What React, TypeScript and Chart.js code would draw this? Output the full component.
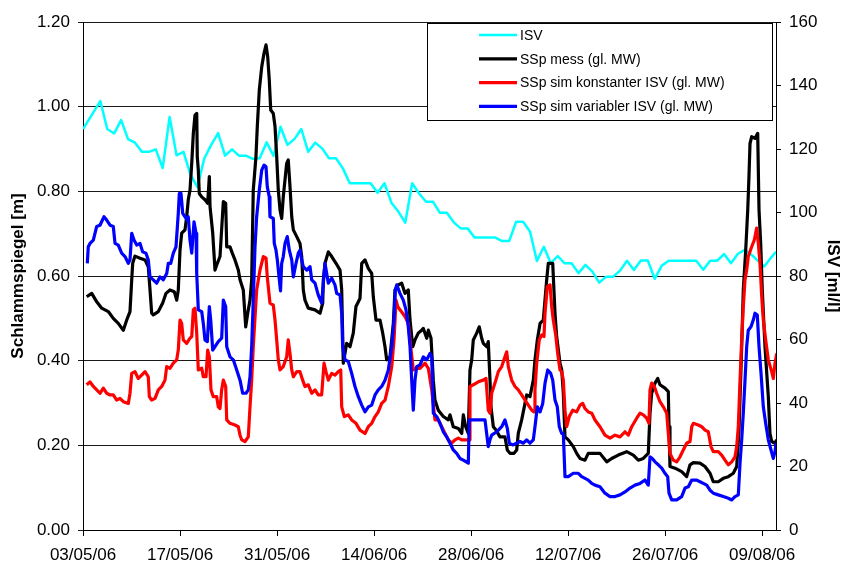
import { useEffect, useRef } from 'react';
import { Chart, registerables } from 'chart.js';

Chart.register(...registerables);

const FONT = '"Liberation Sans", Arial, Helvetica, sans-serif';

// x axis: days since 03/05/06
const xMin = 0;
const xMax = 100;
const xTickDays = [0, 14, 28, 42, 56, 70, 84, 98];
const xTickLabels = ['03/05/06', '17/05/06', '31/05/06', '14/06/06', '28/06/06', '12/07/06', '26/07/06', '09/08/06'];

const seriesLabels = ['ISV', 'SSp mess (gl. MW)', 'SSp sim konstanter ISV (gl. MW)', 'SSp sim variabler ISV (gl. MW)'];
const seriesColors = ['#00ffff', '#000000', '#ff0000', '#0000ff'];

// ISV [ml/l] (right axis)
const isv: [number, number][] = [
  [0, 126.3], [2.5, 135.1], [3.5, 126.3], [4.5, 124.9], [5.5, 129.1], [6.5, 123.1], [7.5, 122.0], [8.5, 119.1],
  [9.5, 119.1], [10.5, 119.9], [11.5, 114.0], [12.5, 130.1], [13.5, 118.0], [14.5, 119.1], [15.5, 112.0], [16.5, 108.0],
  [17.5, 117.0], [18.5, 121.3], [19.5, 125.0], [20.5, 117.9], [21.5, 119.9], [22.5, 117.9], [23.5, 117.9], [24.5, 116.9],
  [25.5, 117.1], [26.5, 122.1], [27.5, 117.8], [28.5, 127.0], [29.5, 121.3], [30.5, 123.1], [31.5, 126.3], [32.5, 119.1],
  [33.5, 122.0], [34.5, 120.2], [35.5, 117.1], [36.5, 117.1], [37.5, 113.9], [38.5, 109.2], [39.5, 109.2], [40.5, 109.2],
  [41.5, 109.2], [42.5, 106.2], [43.5, 109.2], [44.5, 103.1], [45.5, 100.3], [46.5, 96.8], [47.5, 109.2], [48.5, 106.0],
  [49.5, 103.4], [50.5, 103.4], [51.5, 99.9], [52.5, 99.9], [53.5, 96.9], [54.5, 95.0], [55.5, 95.0], [56.5, 92.1],
  [57.5, 92.1], [58.5, 92.1], [59.5, 92.1], [60.5, 91.0], [61.5, 91.0], [62.5, 97.1], [63.5, 97.1], [64.5, 94.0],
  [65.5, 84.7], [66.5, 89.2], [67.5, 84.0], [68.5, 86.3], [69.5, 84.0], [70.5, 84.0], [71.5, 80.9], [72.5, 83.5],
  [73.5, 81.4], [74.5, 77.9], [75.5, 79.8], [76.5, 79.8], [77.5, 81.7], [78.5, 84.8], [79.5, 81.9], [80.5, 84.9],
  [81.5, 84.9], [82.5, 79.1], [83.5, 83.2], [84.5, 84.8], [85.5, 84.8], [86.5, 84.8], [87.5, 84.8], [88.5, 84.8],
  [89.5, 82.0], [90.5, 84.8], [91.5, 84.8], [92.5, 86.9], [93.5, 84.0], [94.5, 87.0], [95.5, 88.2], [96.5, 86.6],
  [97.3, 85.0], [98.3, 83.0], [99.3, 85.8], [100, 87.6],
];

// SSp mess (gl. MW) [m]
const sspMess: [number, number][] = [
  [0.53, 0.551], [1.26, 0.559], [1.98, 0.539], [2.70, 0.524], [3.65, 0.516], [4.37, 0.500], [5.09, 0.488], [5.82, 0.472],
  [6.31, 0.496], [6.78, 0.516], [7.03, 0.591], [7.17, 0.630], [7.50, 0.647], [8.23, 0.642], [8.95, 0.638], [9.42, 0.622],
  [9.67, 0.567], [9.91, 0.512], [10.14, 0.508], [10.87, 0.516], [11.50, 0.536], [11.98, 0.559], [12.55, 0.567], [13.17, 0.563],
  [13.52, 0.543], [13.75, 0.567], [14.00, 0.661], [14.24, 0.701], [14.72, 0.709], [14.96, 0.740], [15.19, 0.780], [15.44, 0.803],
  [15.69, 0.866], [15.92, 0.937], [16.16, 0.980], [16.41, 0.984], [16.49, 0.882], [16.64, 0.850], [16.78, 0.795], [17.13, 0.787],
  [17.60, 0.780], [17.99, 0.772], [18.23, 0.835], [18.33, 0.764], [18.72, 0.701], [19.05, 0.614], [19.38, 0.630], [19.77, 0.646],
  [20.25, 0.776], [20.59, 0.772], [20.74, 0.669], [21.21, 0.669], [21.54, 0.654], [21.93, 0.638], [22.41, 0.614], [22.66, 0.591],
  [23.13, 0.567], [23.48, 0.480], [23.77, 0.512], [24.10, 0.543], [24.34, 0.591], [24.57, 0.803], [24.96, 0.882], [25.15, 0.953],
  [25.44, 1.039], [25.79, 1.094], [26.12, 1.126], [26.41, 1.146], [26.65, 1.118], [26.88, 1.063], [27.09, 0.992], [27.46, 0.984],
  [27.71, 0.953], [27.95, 0.882], [28.18, 0.803], [28.43, 0.756], [28.67, 0.736], [28.90, 0.787], [29.39, 0.866], [29.62, 0.874],
  [29.87, 0.811], [30.12, 0.740], [30.35, 0.709], [30.84, 0.693], [31.31, 0.677], [31.56, 0.646], [31.79, 0.567], [32.03, 0.543],
  [32.51, 0.524], [33.48, 0.520], [34.20, 0.512], [34.59, 0.536], [34.68, 0.591], [34.92, 0.630], [35.40, 0.657], [35.89, 0.646],
  [36.51, 0.630], [37.09, 0.614], [37.33, 0.567], [37.56, 0.394], [38.05, 0.441], [38.53, 0.433], [39.00, 0.465], [39.39, 0.528],
  [39.97, 0.547], [40.22, 0.630], [40.69, 0.638], [41.17, 0.618], [41.66, 0.606], [41.89, 0.551], [42.28, 0.496], [42.86, 0.496],
  [43.25, 0.465], [43.58, 0.433], [43.82, 0.402], [44.30, 0.409], [44.78, 0.488], [45.02, 0.567], [45.50, 0.579], [45.99, 0.583],
  [46.46, 0.559], [46.94, 0.567], [47.19, 0.496], [47.58, 0.433], [47.91, 0.449], [48.38, 0.465], [48.87, 0.472], [49.11, 0.476],
  [49.60, 0.453], [49.83, 0.472], [50.22, 0.453], [50.55, 0.354], [50.79, 0.307], [51.27, 0.283], [51.99, 0.268], [52.71, 0.260],
  [52.96, 0.272], [53.43, 0.244], [54.16, 0.240], [54.65, 0.228], [54.88, 0.272], [55.22, 0.244], [55.60, 0.228], [55.84, 0.378],
  [56.09, 0.402], [56.32, 0.449], [56.81, 0.465], [57.18, 0.480], [57.53, 0.453], [57.76, 0.441], [58.25, 0.433], [58.48, 0.445],
  [58.73, 0.354], [58.87, 0.291], [59.21, 0.244], [59.60, 0.236], [60.17, 0.220], [60.89, 0.220], [61.23, 0.189], [61.62, 0.181],
  [62.19, 0.181], [62.58, 0.189], [62.81, 0.228], [63.30, 0.260], [63.78, 0.299], [64.02, 0.319], [64.50, 0.315], [64.98, 0.354],
  [65.22, 0.402], [65.56, 0.449], [65.95, 0.488], [66.42, 0.496], [66.91, 0.591], [67.14, 0.630], [67.78, 0.630], [68.11, 0.512],
  [68.35, 0.457], [68.83, 0.394], [69.08, 0.378], [69.31, 0.323], [69.55, 0.220], [70.03, 0.213], [70.75, 0.197], [71.24, 0.181],
  [71.72, 0.169], [72.44, 0.165], [72.91, 0.181], [73.64, 0.181], [74.60, 0.181], [75.57, 0.161], [76.29, 0.169], [77.24, 0.177],
  [78.45, 0.185], [79.41, 0.177], [80.13, 0.165], [80.85, 0.169], [81.57, 0.181], [81.82, 0.276], [82.06, 0.323], [82.54, 0.347],
  [82.93, 0.358], [83.26, 0.343], [83.98, 0.335], [84.46, 0.327], [84.56, 0.244], [84.70, 0.150], [85.43, 0.146], [86.39, 0.138],
  [87.11, 0.126], [87.59, 0.154], [88.07, 0.159], [89.03, 0.158], [89.75, 0.150], [90.48, 0.134], [90.95, 0.114], [91.67, 0.114],
  [92.40, 0.122], [93.12, 0.126], [93.84, 0.134], [94.33, 0.150], [94.66, 0.236], [95.05, 0.433], [95.28, 0.567], [95.63, 0.661],
  [95.92, 0.756], [96.10, 0.835], [96.25, 0.913], [96.49, 0.929], [96.97, 0.925], [97.36, 0.937], [97.45, 0.850], [97.55, 0.756],
  [97.79, 0.677], [98.02, 0.567], [98.41, 0.433], [98.89, 0.315], [99.13, 0.228], [99.38, 0.209], [99.86, 0.205], [100.1, 0.213],
];

// SSp sim konstanter ISV (gl. MW) [m]
const sspKonst: [number, number][] = [
  [0.53, 0.343], [1.01, 0.350], [1.49, 0.339], [1.98, 0.331], [2.45, 0.323], [2.93, 0.335], [3.42, 0.323], [3.90, 0.319],
  [4.37, 0.319], [4.86, 0.307], [5.34, 0.311], [5.82, 0.303], [6.54, 0.299], [6.78, 0.323], [7.03, 0.370], [7.50, 0.374],
  [7.98, 0.358], [8.47, 0.366], [8.95, 0.374], [9.42, 0.362], [9.57, 0.315], [9.91, 0.307], [10.39, 0.311], [10.87, 0.331],
  [11.36, 0.339], [11.83, 0.354], [12.08, 0.386], [12.55, 0.382], [13.03, 0.394], [13.52, 0.402], [13.75, 0.425], [14.00, 0.496],
  [14.24, 0.488], [14.47, 0.449], [14.96, 0.441], [15.44, 0.453], [15.69, 0.457], [15.92, 0.520], [16.16, 0.524], [16.41, 0.465],
  [16.64, 0.378], [17.13, 0.382], [17.36, 0.362], [17.75, 0.362], [17.99, 0.425], [18.23, 0.409], [18.47, 0.331], [18.80, 0.315],
  [19.29, 0.315], [19.52, 0.291], [19.77, 0.287], [20.01, 0.331], [20.25, 0.354], [20.59, 0.339], [20.74, 0.260], [21.21, 0.252],
  [21.93, 0.248], [22.41, 0.244], [22.66, 0.224], [22.90, 0.213], [23.38, 0.209], [23.85, 0.220], [24.10, 0.291], [24.34, 0.354],
  [24.57, 0.433], [25.06, 0.567], [25.54, 0.614], [26.02, 0.646], [26.41, 0.642], [26.59, 0.598], [26.98, 0.536], [27.46, 0.531],
  [27.71, 0.496], [27.95, 0.449], [28.18, 0.402], [28.43, 0.378], [28.90, 0.386], [29.39, 0.409], [29.62, 0.449], [29.87, 0.417],
  [30.12, 0.378], [30.35, 0.362], [30.84, 0.374], [31.31, 0.374], [31.70, 0.354], [32.03, 0.339], [32.51, 0.343], [33.00, 0.323],
  [33.48, 0.331], [33.95, 0.319], [34.44, 0.319], [34.78, 0.394], [35.06, 0.374], [35.40, 0.354], [35.89, 0.370], [36.36, 0.366],
  [36.84, 0.374], [37.19, 0.378], [37.33, 0.291], [37.71, 0.268], [38.28, 0.272], [38.77, 0.260], [39.39, 0.252], [39.97, 0.236],
  [40.69, 0.228], [41.17, 0.244], [41.66, 0.252], [42.14, 0.268], [42.61, 0.279], [43.10, 0.299], [43.58, 0.307], [44.06, 0.339],
  [44.55, 0.386], [44.88, 0.449], [45.17, 0.543], [45.41, 0.528], [45.74, 0.520], [46.13, 0.512], [46.46, 0.504], [46.94, 0.488],
  [47.29, 0.433], [47.66, 0.378], [48.15, 0.382], [48.63, 0.382], [49.35, 0.394], [49.83, 0.382], [50.32, 0.331], [50.79, 0.260],
  [51.27, 0.260], [51.76, 0.244], [52.24, 0.228], [52.71, 0.213], [53.20, 0.205], [53.68, 0.213], [54.16, 0.217], [54.65, 0.213],
  [55.37, 0.213], [55.74, 0.213], [55.84, 0.339], [56.32, 0.343], [57.04, 0.350], [57.76, 0.354], [58.15, 0.358], [58.48, 0.283],
  [58.73, 0.276], [58.97, 0.323], [59.45, 0.347], [59.93, 0.374], [60.42, 0.386], [60.89, 0.409], [61.14, 0.421], [61.37, 0.386],
  [61.86, 0.354], [62.34, 0.339], [62.81, 0.331], [63.30, 0.319], [63.78, 0.307], [64.26, 0.295], [64.75, 0.283], [65.08, 0.279],
  [65.22, 0.331], [65.47, 0.394], [65.84, 0.449], [66.19, 0.461], [66.52, 0.457], [66.67, 0.512], [67.00, 0.575], [67.39, 0.579],
  [67.63, 0.528], [67.86, 0.496], [68.21, 0.461], [68.50, 0.417], [68.83, 0.378], [69.08, 0.374], [69.31, 0.354], [69.55, 0.283],
  [69.80, 0.244], [70.17, 0.268], [70.66, 0.283], [71.24, 0.279], [71.72, 0.295], [72.11, 0.299], [72.44, 0.287], [72.91, 0.279],
  [73.41, 0.276], [73.88, 0.260], [74.60, 0.244], [75.32, 0.224], [76.05, 0.217], [76.77, 0.224], [77.49, 0.220], [78.21, 0.232],
  [78.69, 0.224], [79.18, 0.244], [79.90, 0.264], [80.38, 0.276], [80.85, 0.272], [81.34, 0.264], [81.67, 0.252], [81.82, 0.331],
  [82.06, 0.347], [82.44, 0.339], [82.78, 0.323], [83.26, 0.303], [83.74, 0.291], [84.23, 0.276], [84.46, 0.228], [84.70, 0.181],
  [85.18, 0.165], [85.67, 0.161], [86.15, 0.173], [86.62, 0.189], [87.11, 0.205], [87.59, 0.209], [87.84, 0.244], [88.07, 0.252],
  [88.79, 0.248], [89.28, 0.244], [89.75, 0.236], [90.23, 0.232], [90.62, 0.197], [90.95, 0.185], [91.67, 0.185], [92.16, 0.177],
  [92.64, 0.165], [93.12, 0.154], [93.61, 0.161], [94.08, 0.173], [94.33, 0.197], [94.56, 0.244], [94.81, 0.354], [95.05, 0.449],
  [95.28, 0.528], [95.53, 0.591], [95.77, 0.614], [96.00, 0.646], [96.49, 0.669], [96.87, 0.685], [97.21, 0.713], [97.45, 0.677],
  [97.69, 0.630], [97.94, 0.551], [98.17, 0.496], [98.51, 0.449], [98.89, 0.402], [99.38, 0.374], [99.61, 0.358], [99.86, 0.394],
  [100.1, 0.417],
];

// SSp sim variabler ISV (gl. MW) [m]
const sspVar: [number, number][] = [
  [0.62, 0.630], [0.76, 0.669], [1.01, 0.677], [1.49, 0.685], [1.98, 0.717], [2.45, 0.720], [3.03, 0.740], [3.42, 0.732],
  [3.90, 0.720], [4.37, 0.717], [4.62, 0.677], [5.09, 0.673], [5.58, 0.654], [6.06, 0.646], [6.54, 0.630], [6.78, 0.638],
  [7.03, 0.701], [7.36, 0.685], [7.75, 0.673], [8.23, 0.677], [8.61, 0.657], [9.09, 0.654], [9.42, 0.638], [9.67, 0.598],
  [10.14, 0.591], [10.63, 0.583], [11.11, 0.598], [11.59, 0.591], [12.08, 0.606], [12.31, 0.630], [12.66, 0.630], [13.03, 0.654],
  [13.42, 0.669], [13.75, 0.748], [13.90, 0.795], [14.14, 0.795], [14.39, 0.748], [14.72, 0.740], [15.05, 0.732], [15.19, 0.740],
  [15.44, 0.685], [15.69, 0.654], [16.02, 0.728], [16.31, 0.701], [16.41, 0.606], [16.64, 0.520], [17.13, 0.516], [17.36, 0.488],
  [17.60, 0.449], [17.94, 0.445], [18.23, 0.528], [18.43, 0.496], [18.72, 0.425], [19.05, 0.433], [19.52, 0.445], [20.01, 0.453],
  [20.25, 0.543], [20.59, 0.528], [20.74, 0.433], [21.21, 0.409], [21.69, 0.402], [22.18, 0.378], [22.66, 0.354], [23.04, 0.323],
  [23.52, 0.323], [23.85, 0.331], [24.10, 0.362], [24.34, 0.433], [24.57, 0.543], [24.82, 0.669], [25.06, 0.740], [25.44, 0.803],
  [25.79, 0.850], [26.12, 0.862], [26.41, 0.858], [26.59, 0.811], [26.88, 0.787], [26.98, 0.740], [27.46, 0.736], [27.60, 0.677],
  [27.85, 0.661], [28.04, 0.638], [28.33, 0.591], [28.50, 0.565], [28.67, 0.630], [28.90, 0.646], [29.15, 0.677], [29.48, 0.693],
  [29.77, 0.661], [30.12, 0.638], [30.35, 0.598], [30.74, 0.630], [31.07, 0.654], [31.31, 0.661], [31.56, 0.638], [31.79, 0.622],
  [32.28, 0.614], [32.76, 0.622], [33.00, 0.591], [33.48, 0.583], [33.95, 0.555], [34.44, 0.536], [34.92, 0.630], [35.40, 0.583],
  [35.89, 0.595], [36.36, 0.579], [36.61, 0.559], [37.09, 0.555], [37.33, 0.512], [37.47, 0.433], [37.81, 0.402], [38.28, 0.398],
  [38.77, 0.370], [39.25, 0.339], [39.73, 0.315], [40.22, 0.295], [40.69, 0.279], [41.17, 0.291], [41.66, 0.295], [42.14, 0.319],
  [42.61, 0.331], [43.10, 0.339], [43.58, 0.354], [44.06, 0.378], [44.55, 0.433], [44.88, 0.496], [45.07, 0.567], [45.27, 0.579],
  [45.74, 0.559], [46.22, 0.543], [46.61, 0.520], [46.94, 0.480], [47.19, 0.433], [47.43, 0.354], [47.66, 0.283], [47.91, 0.354],
  [48.15, 0.386], [48.63, 0.390], [49.11, 0.409], [49.60, 0.402], [50.07, 0.417], [50.32, 0.409], [50.55, 0.276], [51.04, 0.268],
  [51.52, 0.252], [51.99, 0.232], [52.48, 0.220], [52.96, 0.205], [53.43, 0.189], [53.92, 0.181], [54.40, 0.169], [54.88, 0.165],
  [55.60, 0.158], [55.74, 0.260], [57.04, 0.260], [58.01, 0.260], [58.48, 0.197], [58.73, 0.213], [58.97, 0.224], [59.70, 0.232],
  [60.42, 0.244], [60.89, 0.260], [61.23, 0.240], [61.52, 0.205], [62.01, 0.201], [62.58, 0.205], [63.06, 0.209], [63.54, 0.205],
  [64.02, 0.213], [64.50, 0.205], [64.98, 0.213], [65.22, 0.244], [65.56, 0.291], [65.95, 0.279], [66.34, 0.299], [66.67, 0.347],
  [67.06, 0.378], [67.49, 0.370], [67.78, 0.354], [68.11, 0.307], [68.44, 0.291], [68.73, 0.244], [69.08, 0.228], [69.31, 0.228],
  [69.55, 0.126], [70.03, 0.126], [70.75, 0.134], [71.47, 0.134], [71.96, 0.126], [72.44, 0.122], [72.91, 0.118], [73.41, 0.110],
  [73.88, 0.106], [74.60, 0.102], [75.32, 0.087], [76.05, 0.079], [76.77, 0.079], [77.49, 0.083], [78.21, 0.090], [78.93, 0.099],
  [79.65, 0.106], [80.38, 0.110], [81.10, 0.118], [81.57, 0.106], [81.82, 0.173], [82.15, 0.169], [82.54, 0.161], [83.02, 0.154],
  [83.51, 0.146], [83.98, 0.134], [84.37, 0.126], [84.56, 0.087], [84.95, 0.071], [85.67, 0.071], [86.39, 0.079], [86.87, 0.099],
  [87.35, 0.102], [87.84, 0.118], [88.56, 0.118], [89.03, 0.114], [89.51, 0.110], [90.00, 0.106], [90.48, 0.094], [90.95, 0.087],
  [91.67, 0.083], [92.40, 0.079], [93.12, 0.075], [93.61, 0.071], [94.08, 0.079], [94.56, 0.083], [94.81, 0.158], [95.05, 0.213],
  [95.28, 0.276], [95.53, 0.354], [95.77, 0.433], [96.00, 0.472], [96.39, 0.480], [96.72, 0.496], [96.97, 0.512], [97.30, 0.508],
  [97.55, 0.433], [97.84, 0.370], [98.17, 0.291], [98.51, 0.252], [98.89, 0.213], [99.28, 0.189], [99.61, 0.169], [99.86, 0.185],
  [100.0, 0.205],
];

const toPoints = (arr: [number, number][]) => arr.map(([x, y]) => ({ x, y }));

const legendPlugin = {
  id: 'boxLegend',
  afterDraw(chart: any) {
    const { ctx, chartArea } = chart;
    const boxRight = chartArea.right - 4;
    const boxLeft = boxRight - 345;
    const boxTop = chartArea.top + 1;
    const boxH = 97;
    ctx.save();
    ctx.fillStyle = '#ffffff';
    ctx.fillRect(boxLeft, boxTop, boxRight - boxLeft, boxH);
    ctx.strokeStyle = '#000000';
    ctx.lineWidth = 1;
    ctx.strokeRect(boxLeft + 0.5, boxTop + 0.5, boxRight - boxLeft, boxH);
    ctx.font = `14px ${FONT}`;
    ctx.textBaseline = 'middle';
    ctx.textAlign = 'left';
    const ds = chart.data.datasets;
    seriesLabels.forEach((label, i) => {
      const d = ds.find((s: any) => s.label === label);
      const y = boxTop + 12 + i * 23.8;
      ctx.strokeStyle = d.borderColor;
      ctx.lineWidth = d.borderWidth;
      ctx.beginPath();
      ctx.moveTo(boxLeft + 52, y);
      ctx.lineTo(boxLeft + 90, y);
      ctx.stroke();
      ctx.fillStyle = '#000000';
      ctx.fillText(label, boxLeft + 93, y + 1);
    });
    ctx.restore();
  },
};

export default function App() {
  const ref = useRef<HTMLCanvasElement | null>(null);

  useEffect(() => {
    document.body.style.margin = '0';
    const canvas = ref.current;
    if (!canvas) return;
    const tickFont = { family: FONT, size: 17 };
    const titleFont = { family: FONT, size: 17, weight: 'bold' as const, lineHeight: 1 };
    const chart = new Chart(canvas, {
      type: 'line',
      data: {
        datasets: [
          { label: seriesLabels[0], data: toPoints(isv), yAxisID: 'y2', borderColor: seriesColors[0], borderWidth: 2.5, order: 4 },
          { label: seriesLabels[1], data: toPoints(sspMess), yAxisID: 'y', borderColor: seriesColors[1], borderWidth: 3.2, order: 3 },
          { label: seriesLabels[2], data: toPoints(sspKonst), yAxisID: 'y', borderColor: seriesColors[2], borderWidth: 3.2, order: 2 },
          { label: seriesLabels[3], data: toPoints(sspVar), yAxisID: 'y', borderColor: seriesColors[3], borderWidth: 3.2, order: 1 },
        ],
      },
      options: {
        animation: false,
        responsive: false,
        devicePixelRatio: 1,
        parsing: true,
        layout: { padding: { top: 22, left: 0, right: 0, bottom: 0 } },
        elements: {
          point: { radius: 0 },
          line: { tension: 0, borderJoinStyle: 'round', fill: false },
        },
        plugins: {
          legend: { display: false },
          tooltip: { enabled: false },
        },
        scales: {
          x: {
            type: 'linear',
            min: xMin,
            max: xMax,
            afterBuildTicks: (s: any) => {
              s.ticks = xTickDays.map((v) => ({ value: v }));
            },
            afterFit: (s: any) => {
              s.height = 33;
            },
            grid: { drawOnChartArea: false, drawTicks: true, tickLength: 6, color: '#000' },
            border: { display: true, color: '#000', width: 1 },
            ticks: {
              autoSkip: false,
              maxRotation: 0,
              padding: 9,
              color: '#000',
              font: tickFont,
              callback: (_v: any, i: number) => xTickLabels[i],
            },
          },
          y: {
            position: 'left',
            min: 0,
            max: 1.2,
            afterFit: (s: any) => {
              s.width = 83;
            },
            grid: { color: '#1a1a1a', tickLength: 5 },
            border: { display: true, color: '#000', width: 1 },
            ticks: {
              stepSize: 0.2,
              padding: 8,
              color: '#000',
              font: tickFont,
              callback: (v: any) => Number(v).toFixed(2),
            },
            title: {
              display: true,
              text: 'Schlammspiegel [m]',
              color: '#000',
              font: titleFont,
              padding: { top: 10, bottom: 0 },
            },
          },
          y2: {
            position: 'right',
            min: 0,
            max: 160,
            afterFit: (s: any) => {
              s.width = 66;
            },
            grid: { drawOnChartArea: false, tickLength: 5, color: '#000' },
            border: { display: true, color: '#000', width: 1 },
            ticks: {
              stepSize: 20,
              padding: 8,
              color: '#000',
              font: tickFont,
              callback: (v: any) => String(Math.round(Number(v))),
            },
            title: {
              display: true,
              text: 'ISV [ml/l]',
              color: '#000',
              font: titleFont,
              padding: { top: 0.5, bottom: 0 },
            },
          },
        },
      },
      plugins: [legendPlugin],
    });
    return () => chart.destroy();
  }, []);

  return (
    <div style={{ width: 842, height: 563 }}>
      <canvas ref={ref} width={842} height={563} style={{ display: 'block', width: 842, height: 563 }} />
    </div>
  );
}
